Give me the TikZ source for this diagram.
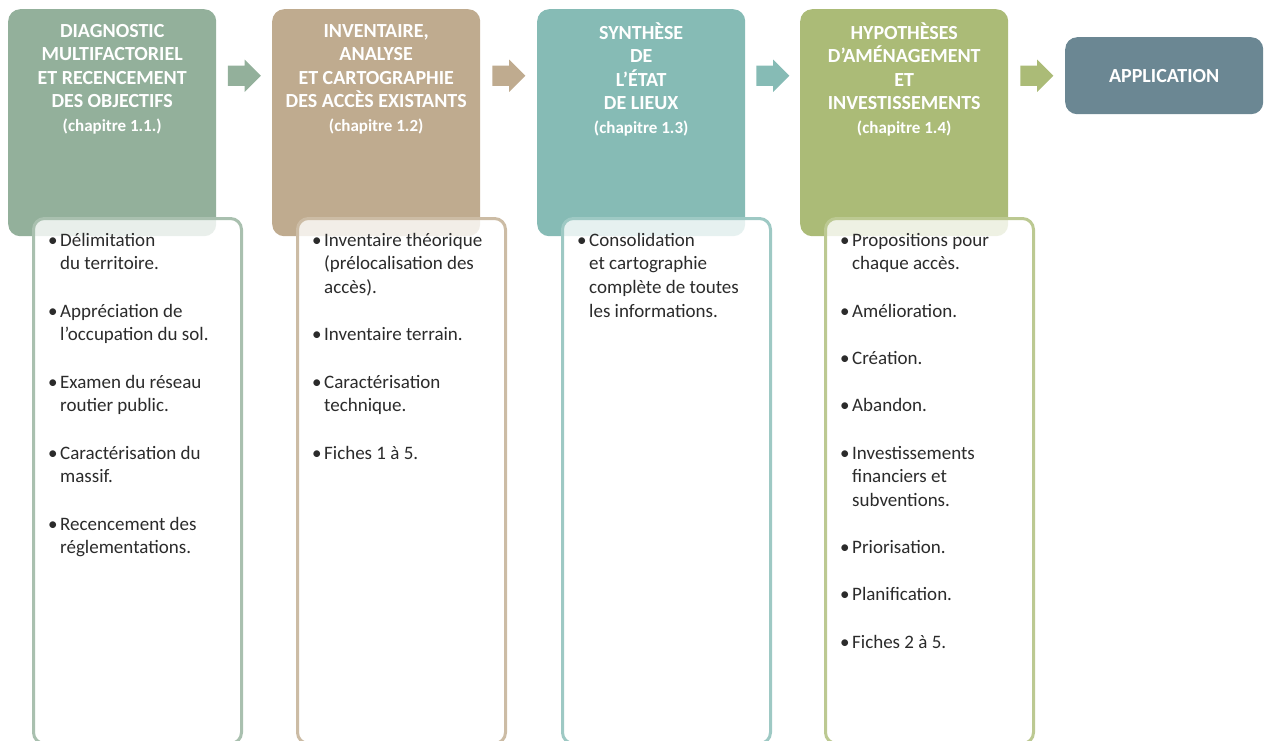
\documentclass[tikz,border=0pt]{standalone}
\usepackage{fontspec}
\setmainfont{Carlito}
\usetikzlibrary{
  shapes.arrows,
  calc
}
\definecolor{diagcol}{HTML}{93B09B}
\definecolor{invcol}{HTML}{BFAB8F}
\definecolor{syncol}{HTML}{86BBB5}
\definecolor{hypcol}{HTML}{ABBB77}
\definecolor{appcol}{HTML}{6B8793}
\definecolor{textgray}{HTML}{2B2B2B}
\newcommand\puce{\makebox[12pt][l]{\textbullet}}
\newcommand\suite{\hspace*{12pt}}
\newcommand\chap[1]{{\fontsize{17}{20}\selectfont #1}}
\tikzset{
  headbox/.style={
    rectangle,
    rounded corners=12pt,
    fill=#1,
    minimum width=208pt,
    minimum height=227pt,
    inner sep=0pt,
    anchor=north west
  },
  listbox/.style={
    rectangle,
    rounded corners=11pt,
    draw=#1!80!white,
    line width=3pt,
    fill=white,
    fill opacity=0.8,
    minimum width=208pt,
    minimum height=525pt,
    anchor=north west
  },
  headtext/.style={
    text=white,
    font=\bfseries\fontsize{20}{23.5}\selectfont,
    align=center,
    inner sep=0pt,
    anchor=north
  },
  itemtext/.style={
    text=textgray,
    font=\fontsize{19}{23.65}\selectfont,
    align=left,
    inner sep=0pt,
    anchor=north west
  },
  steparrow/.style={
    single arrow,
    fill=#1,
    minimum height=33pt,
    minimum width=32pt,
    single arrow head extend=6pt,
    inner xsep=0pt,
    inner ysep=10pt,
    anchor=tail
  }
}
\begin{document}
\begin{tikzpicture}[x=1pt, y=-1pt]
  \useasboundingbox (0,0) rectangle (1264,740);
  \node[headbox=diagcol] (head1) at (8,9) {};
  \node[headbox=invcol] (head2) at (272,9) {};
  \node[headbox=syncol] (head3) at (537,9) {};
  \node[headbox=hypcol] (head4) at (800,9) {};
  \node[headbox=appcol, minimum width=198pt, minimum height=77pt, text=white,
    font=\bfseries\fontsize{20}{24}\selectfont, align=center] (app) at (1065,37) {APPLICATION};
  \foreach \h/\c [count=\i] in {head1/diagcol, head2/invcol, head3/syncol, head4/hypcol}
    \node[listbox=\c] (list\i) at ([xshift=24pt, yshift=-208pt]\h.north west) {};
  \node[headtext] (title1) at ([yshift=-13pt]head1.north)
    {\rule{0pt}{15pt}DIAGNOSTIC\\MULTIFACTORIEL\\ET RECENCEMENT\\DES OBJECTIFS\\\chap{(chapitre 1.1.)}};
  \node[headtext] (title2) at ([yshift=-13pt]head2.north)
    {\rule{0pt}{15pt}INVENTAIRE,\\ANALYSE\\ET CARTOGRAPHIE\\DES ACCÈS EXISTANTS\\\chap{(chapitre 1.2)}};
  \node[headtext] (title3) at ([yshift=-13pt]head3.north)
    {\rule{0pt}{15pt}SYNTHÈSE\\DE\\L’ÉTAT\\DE LIEUX\\\chap{(chapitre 1.3)}};
  \node[headtext] (title4) at ([yshift=-13pt]head4.north)
    {\rule{0pt}{15pt}HYPOTHÈSES\\D’AMÉNAGEMENT\\ET\\INVESTISSEMENTS\\\chap{(chapitre 1.4)}};
  \node[itemtext] (items1) at ([xshift=16pt, yshift=-13pt]list1.north west)
    {\rule{0pt}{16pt}\puce Délimitation\\ \suite du territoire.\\[23.65pt]
     \puce Appréciation de\\ \suite l’occupation du sol.\\[23.65pt]
     \puce Examen du réseau\\ \suite routier public.\\[23.65pt]
     \puce Caractérisation du\\ \suite massif.\\[23.65pt]
     \puce Recencement des\\ \suite réglementations.};
  \node[itemtext] (items2) at ([xshift=16pt, yshift=-13pt]list2.north west)
    {\rule{0pt}{16pt}\puce Inventaire théorique\\ \suite (prélocalisation des\\ \suite accès).\\[23.65pt]
     \puce Inventaire terrain.\\[23.65pt]
     \puce Caractérisation\\ \suite technique.\\[23.65pt]
     \puce Fiches 1 à 5.};
  \node[itemtext] (items3) at ([xshift=16pt, yshift=-13pt]list3.north west)
    {\rule{0pt}{16pt}\puce Consolidation\\ \suite et cartographie\\ \suite complète de toutes\\ \suite les informations.};
  \node[itemtext] (items4) at ([xshift=16pt, yshift=-13pt]list4.north west)
    {\rule{0pt}{16pt}\puce Propositions pour\\ \suite chaque accès.\\[23.65pt]
     \puce Amélioration.\\[23.65pt]
     \puce Création.\\[23.65pt]
     \puce Abandon.\\[23.65pt]
     \puce Investissements\\ \suite financiers et\\ \suite subventions.\\[23.65pt]
     \puce Priorisation.\\[23.65pt]
     \puce Planification.\\[23.65pt]
     \puce Fiches 2 à 5.};
  \foreach \a/\b/\c in {head1/head2/diagcol, head2/head3/invcol, head3/head4/syncol, head4/app/hypcol} {
    \coordinate (mid) at ($(\a.east)!0.5!(\b.west)$);
    \node[steparrow=\c] (arrow-\a) at ([xshift=-16.5pt]mid |- app) {};
  }
\end{tikzpicture}
\end{document}
